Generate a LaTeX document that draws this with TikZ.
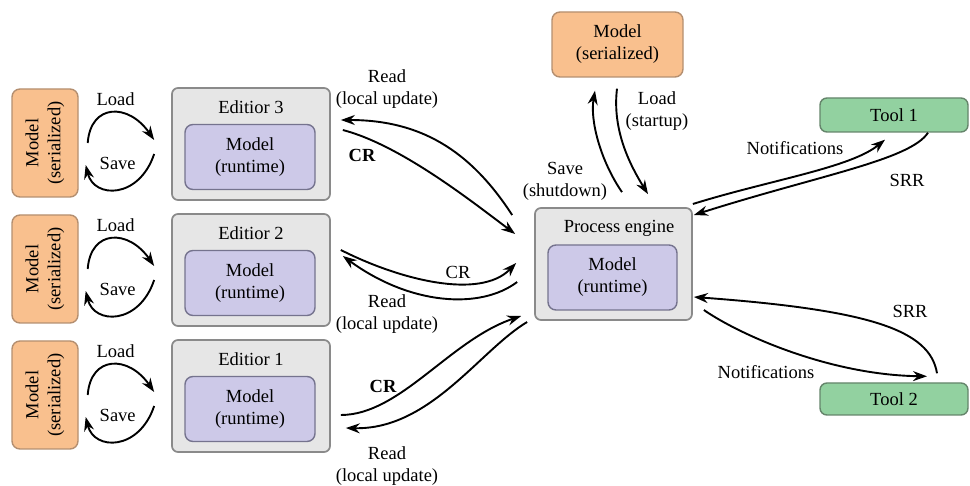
\documentclass[tikz,border=0pt]{standalone}
\usepackage{fontspec}
\setmainfont{Liberation Serif}
\usetikzlibrary{arrows.meta,calc}
\definecolor{serfill}{HTML}{F9C08E}
\definecolor{serdraw}{HTML}{B48F70}
\definecolor{edfill}{HTML}{E6E6E6}
\definecolor{eddraw}{HTML}{8A8A8A}
\definecolor{rtfill}{HTML}{CDC9E8}
\definecolor{rtdraw}{HTML}{75738E}
\definecolor{toolfill}{HTML}{92D1A0}
\definecolor{tooldraw}{HTML}{65856B}
\begin{document}
\begin{tikzpicture}[x=1pt,y=-1pt,
  every node/.style={font=\fontsize{18.5pt}{22pt}\selectfont},
  ser/.style={draw=serdraw, fill=serfill, rounded corners=8pt, line width=1.4pt, align=center, inner sep=0pt},
  edbox/.style={draw=eddraw, fill=edfill, rounded corners=6pt, line width=1.7pt, minimum width=158pt, minimum height=112pt, inner sep=0pt},
  rt/.style={draw=rtdraw, fill=rtfill, rounded corners=8pt, line width=1.4pt, minimum width=130pt, minimum height=65pt, align=center, inner sep=0pt},
  tool/.style={draw=tooldraw, fill=toolfill, rounded corners=7pt, line width=1.4pt, minimum width=148pt, minimum height=34pt, inner sep=0pt},
  lbl/.style={align=center, inner sep=0pt},
  arr/.style={line width=1.9pt, -{Stealth[length=14pt,width=10pt]}}]
\useasboundingbox (0,0) rectangle (970,486);

% editor groups
\foreach \i/\T in {3/88, 2/214, 1/340}{
  \node[ser, rotate=90, minimum width=108pt, minimum height=66pt] (s\i) at (45,{\T+55}) {Model\\(serialized)};
  \node[edbox] (e\i) at (251,{\T+56}) {};
  \node[lbl] (t\i) at (251,{\T+19}) {Editior \i};
  \node[rt] (m\i) at (250,{\T+69}) {Model\\(runtime)};
  \draw[arr] ($(s\i.south)+(9,0)$) .. controls ($(s\i.south)+(12,-40)$) and ($(s\i.south)+(50,-40)$) .. ($(e\i.west)+(-17,-4)$);
  \draw[arr] ($(e\i.west)+(-17,10)$) .. controls ($(e\i.west)+(-32,55)$) and ($(e\i.west)+(-77,55)$) .. ($(s\i.south)+(7,22)$);
  \node[lbl] (ld\i) at ($(s\i.south)+(37,-44)$) {Load};
  \node[lbl] (sv\i) at ($(s\i.south)+(39,20)$) {Save};
}

% process engine
\node[edbox, minimum width=157pt] (pe) at (613.5,264) {};
\node[lbl] (pet) at (619,228) {Process engine};
\node[rt, minimum width=129pt] (pem) at (612.5,277.5) {Model\\(runtime)};

% top serialized model
\node[ser, minimum width=131pt, minimum height=65pt] (ts) at (617.5,44.5) {Model\\(serialized)};

% tools
\node[tool] (tool1) at (894,115) {Tool 1};
\node[tool, minimum height=32pt] (tool2) at (894,399) {Tool 2};

% editor 3 <-> engine
\draw[arr] ($(pe.west)+(-22,-49)$) .. controls (470,150) and (420,120) .. ($(e3.east)+(10,-24)$);
\draw[arr] ($(e3.east)+(12,-14)$) .. controls (400,145) and (470,200) .. ($(pe.west)+(-19,-30)$);
\node[lbl] (rd3) at (387,89) {Read\\(local update)};
\node[lbl, font=\fontsize{18.5pt}{22pt}\selectfont\bfseries] (cr3) at (362,155) {CR};

% editor 2 <-> engine
\draw[arr] ($(e2.east)+(10,-20)$) .. controls (400,280) and (480,300) .. ($(pe.west)+(-18,-1)$);
\draw[arr] ($(pe.west)+(-17,18)$) .. controls (480,310) and (410,305) .. ($(e2.east)+(12,-14)$);
\node[lbl] (cr2) at (458,272) {CR};
\node[lbl] (rd2) at (387,314) {Read\\(local update)};

% editor 1 <-> engine
\draw[arr] ($(e1.east)+(10,19)$) .. controls (400,415) and (450,340) .. ($(pe.west)+(-13,52)$);
\draw[arr] ($(pe.west)+(-7,58)$) .. controls (480,350) and (430,430) .. ($(e1.east)+(15,32)$);
\node[lbl, font=\fontsize{18.5pt}{22pt}\selectfont\bfseries] (cr1) at (383,386) {CR};
\node[lbl] (rd1) at (387,466) {Read\\(local update)};

% engine <-> top model
\draw[arr] ($(pe.north)+(8.5,-15)$) .. controls (600,160) and (590,120) .. ($(ts.south)+(-22.5,13)$);
\draw[arr] ($(ts.south)+(-0.5,11)$) .. controls (612,130) and (630,165) .. ($(pe.north)+(34.5,-13)$);
\node[lbl] (svs) at (565,181) {Save\\(shutdown)};
\node[lbl] (lds) at (657,111) {Load\\(startup)};

% tool 1
\draw[arr] ($(pe.east)+(0,-60)$) .. controls (770,180) and (850,168) .. ($(tool1.south)+(-9,7)$);
\draw[arr] ($(tool1.south)+(34,0)$) .. controls (910,160) and (820,175) .. ($(pe.east)+(1,-49)$);
\node[lbl] (nt1) at (795,148) {Notifications};
\node[lbl] (sr1) at (907,180) {SRR};

% tool 2
\draw[arr] ($(tool2.north)+(43,-9)$) .. controls (930,330) and (870,310) .. ($(pe.east)+(1,33)$);
\draw[arr] ($(pe.east)+(11,46)$) .. controls (740,335) and (830,375) .. ($(tool2.north)+(33,-6)$);
\node[lbl] (sr2) at (910,311) {SRR};
\node[lbl] (nt2) at (766,372) {Notifications};
\end{tikzpicture}
\end{document}
